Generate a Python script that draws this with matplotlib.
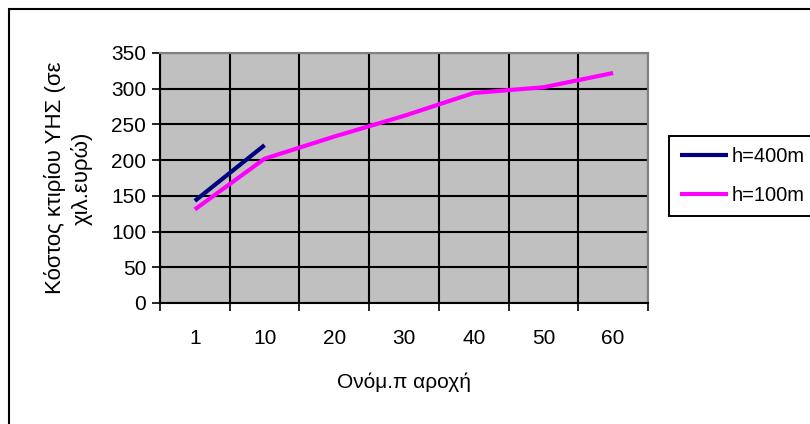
import matplotlib
matplotlib.use('Agg')
import matplotlib.pyplot as plt
import numpy as np
from matplotlib.patches import Rectangle

plt.rcParams['font.family'] = ['Liberation Sans', 'DejaVu Sans']

categories = ['1', '10', '20', '30', '40', '50', '60']
h400 = [143, 221]
h100 = [131, 202, 233, 262, 294, 302, 322]
yticks = [0, 50, 100, 150, 200, 250, 300, 350]

W, H = 810, 424
fig = plt.figure(figsize=(W / 100, H / 100), dpi=100)
ax = fig.add_axes([160 / W, 1 - 303 / H, (648 - 160) / W, (303 - 53) / H])
ax.set_facecolor('#c0c0c0')

x = np.arange(len(categories))
ax.plot(x[:len(h400)], h400, color='#000080', lw=3, label='h=400m', solid_capstyle='butt')
ax.plot(x, h100, color='#ff00ff', lw=3, label='h=100m', solid_capstyle='butt')

ax.set_xlim(-0.5, len(categories) - 0.5)
ax.set_ylim(0, 350)
ax.set_yticks(yticks)
ax.set_xticks(np.arange(-0.5, len(categories), 1.0))
ax.set_xticklabels([])
ax.set_xticks(x, minor=True)
ax.set_xticklabels(categories, minor=True)
ax.tick_params(axis='x', which='minor', length=0, pad=19, labelsize=15)
ax.tick_params(axis='x', which='major', length=6, width=1.2, direction='out', color='black')
ax.tick_params(axis='y', length=6, width=1.2, direction='out', labelsize=15, pad=4)
ax.grid(True, which='major', color='black', lw=1.5)
ax.set_axisbelow(True)

for s in ['top', 'right']:
    ax.spines[s].set_color('#808080')
    ax.spines[s].set_linewidth(1.5)
for s in ['left', 'bottom']:
    ax.spines[s].set_color('black')
    ax.spines[s].set_linewidth(1.5)

ax.set_xlabel('Ονόμ.π αροχή', fontsize=15, labelpad=17)
ax.set_ylabel('Κόστος κτιρίου ΥΗΣ (σε\nχιλ.ευρώ)', fontsize=16, labelpad=13, linespacing=1.3)

leg = fig.legend(loc='upper left', bbox_to_anchor=(669 / W, 1 - 136 / H),
                 fontsize=14.5, frameon=True, fancybox=False, shadow=False, framealpha=1,
                 handlelength=2.4, handletextpad=0.15, borderpad=0.55, labelspacing=1.0,
                 borderaxespad=0)
leg.get_frame().set_edgecolor('black')
leg.get_frame().set_linewidth(1.4)

fig.patches.append(Rectangle((9 / W, -0.1), 2, 1.1 - 9 / H, transform=fig.transFigure,
                             fill=False, edgecolor='black', lw=1.5))

fig.savefig('out.png', dpi=100)
